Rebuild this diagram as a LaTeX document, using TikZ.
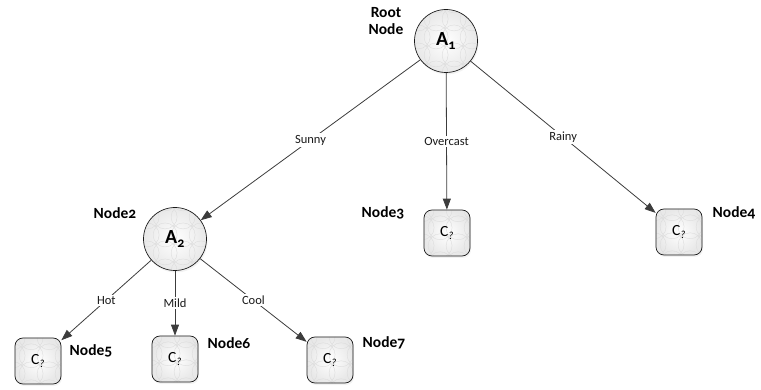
\documentclass[tikz,border=0pt]{standalone}
\usepackage{fontspec}
\setmainfont{Carlito}[Numbers=OldStyle]
\usetikzlibrary{arrows.meta,positioning,shadows}
\definecolor{ink}{HTML}{1A1A1A}
\definecolor{edgegray}{HTML}{3C3C3C}
\definecolor{shellgray}{HTML}{E8E8E8}
\definecolor{tilegray}{HTML}{DADADA}
\tikzset{
  texture/.style={path picture={
      \foreach \i in {-3,...,3}{\foreach \j in {-3,...,3}{
        \draw[tilegray,line width=0.35pt,shift={(path picture bounding box.center)}]
          (\i*18,\j*18+9) circle (12);}}}},
  decision/.style={circle,draw=ink,line width=0.7pt,minimum size=63pt,inner sep=0pt,
                   inner color=white,outer color=shellgray,texture,
                   drop shadow={opacity=0.10,shadow xshift=1pt,shadow yshift=-2pt},
                   font=\fontsize{20}{21}\selectfont\bfseries},
  leaf/.style={rectangle,rounded corners=8pt,draw=ink,line width=0.7pt,
               minimum size=46pt,inner sep=0pt,
               inner color=white,outer color=shellgray,texture,
               drop shadow={opacity=0.10,shadow xshift=1pt,shadow yshift=-2pt},
               font=\fontsize{15.5}{16}\selectfont},
  tag/.style={font=\fontsize{15.5}{17}\selectfont\bfseries,align=center},
  cond/.style={fill=white,inner sep=1.5pt,text=ink,font=\fontsize{12.5}{13}\selectfont},
  branch/.style={-{Triangle[length=11pt,width=8pt]},draw=edgegray,line width=0.8pt}
}
\newcommand{\unknownclass}{C\textsubscript{\itshape ?}}

\begin{document}
\begin{tikzpicture}[x=1pt,y=-1pt]
  \useasboundingbox (0,0) rectangle (761,390);
  % decision nodes
  \node[decision] (root) at (446,41) {A\textsubscript{1}};
  \node[decision] (n2) at (175,239) {A\textsubscript{2}};
  % leaves
  \node[leaf] (n3) at (447,233) {\unknownclass};
  \node[leaf] (n4) at (679,232) {\unknownclass};
  \node[leaf] (n5) at (38,361) {\unknownclass};
  \node[leaf] (n6) at (175,359) {\unknownclass};
  \node[leaf] (n7) at (330,360) {\unknownclass};
  % names
  \node[tag] (rootname) at (386,21) {Root\\Node};
  \node[tag] (n2name) at (115,213) {Node2};
  \node[tag] (n3name) at (383,213) {Node3};
  \node[tag] (n4name) at (734,213) {Node4};
  \node[tag] (n5name) at (91,351) {Node5};
  \node[tag] (n6name) at (229,343) {Node6};
  \node[tag] (n7name) at (384,343) {Node7};
  % branches
  \draw[branch] (root) -- node[cond] {Sunny} (n2);
  \draw[branch] (root) -- node[cond] {Overcast} (n3);
  \draw[branch] (root) -- node[cond] {Rainy} (n4);
  \draw[branch] (n2) -- node[cond] {Hot} (n5);
  \draw[branch] (n2) -- node[cond] {Mild} (n6);
  \draw[branch] (n2) -- node[cond] {Cool} (n7);
\end{tikzpicture}
\end{document}
